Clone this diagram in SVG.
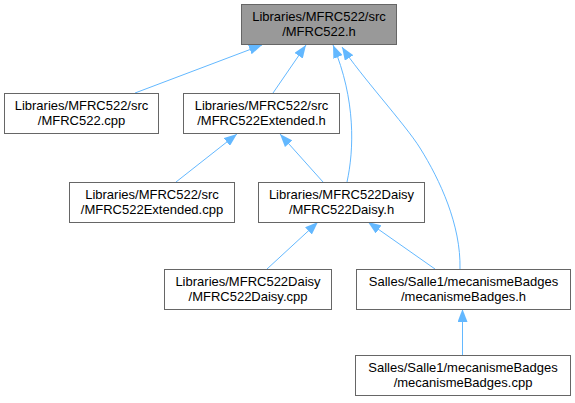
<svg xmlns="http://www.w3.org/2000/svg" width="575" height="403" viewBox="0 0 575 403">
<style>
  .box { fill: #ffffff; stroke: #666666; stroke-width: 1; }
  .root { fill: #999999; stroke: #666666; stroke-width: 1; }
  text { font-family: "Liberation Sans", Arial, sans-serif; font-size: 13px; fill: #000000; text-anchor: middle; }
  .edge { fill: none; stroke: #63b8ff; stroke-width: 1; marker-end: url(#arrow); }
</style>
<defs>
  <marker id="arrow" markerUnits="userSpaceOnUse" markerWidth="13" markerHeight="10" viewBox="0 0 13 10" refX="13" refY="5" orient="auto">
    <path d="M0,0 L13,5 L0,10 z" fill="#63b8ff"/>
  </marker>
</defs>
<rect width="575" height="403" fill="#ffffff"/>
<g id="connectors">
  <path class="edge" d="M135,93 L262,45"/>
  <path class="edge" d="M273,93 L306,45"/>
  <path class="edge" d="M347,182 C354,150 356,100 333,45"/>
  <path class="edge" d="M460,269 C461,225 440,180 420,148 C405,124 360,75 342,47"/>
  <path class="edge" d="M176,182 L237,134"/>
  <path class="edge" d="M323,182 L280,134"/>
  <path class="edge" d="M267,269 L318,222"/>
  <path class="edge" d="M435,269 L368,222"/>
  <path class="edge" d="M462.5,355 L462.5,309"/>
</g>
<g id="node-mfrc522-h">
  <rect class="root" x="241.5" y="4.5" width="155" height="40"/>
  <text x="319" y="21">Libraries/MFRC522/src</text>
  <text x="319" y="36">/MFRC522.h</text>
</g>
<g id="node-mfrc522-cpp">
  <rect class="box" x="4.5" y="93.5" width="154" height="40"/>
  <text x="81.5" y="110">Libraries/MFRC522/src</text>
  <text x="81.5" y="125">/MFRC522.cpp</text>
</g>
<g id="node-mfrc522extended-h">
  <rect class="box" x="183.5" y="93.5" width="156" height="40"/>
  <text x="261.5" y="110">Libraries/MFRC522/src</text>
  <text x="261.5" y="125">/MFRC522Extended.h</text>
</g>
<g id="node-mfrc522extended-cpp">
  <rect class="box" x="69.5" y="182.5" width="165" height="40"/>
  <text x="152" y="199">Libraries/MFRC522/src</text>
  <text x="152" y="214">/MFRC522Extended.cpp</text>
</g>
<g id="node-mfrc522daisy-h">
  <rect class="box" x="258.5" y="182.5" width="166" height="40"/>
  <text x="341.5" y="199">Libraries/MFRC522Daisy</text>
  <text x="341.5" y="214">/MFRC522Daisy.h</text>
</g>
<g id="node-mfrc522daisy-cpp">
  <rect class="box" x="164.5" y="269.5" width="167" height="40"/>
  <text x="248" y="286">Libraries/MFRC522Daisy</text>
  <text x="248" y="301">/MFRC522Daisy.cpp</text>
</g>
<g id="node-mecanismebadges-h">
  <rect class="box" x="356.5" y="269.5" width="214" height="40"/>
  <text x="463.5" y="286">Salles/Salle1/mecanismeBadges</text>
  <text x="463.5" y="301">/mecanismeBadges.h</text>
</g>
<g id="node-mecanismebadges-cpp">
  <rect class="box" x="355.5" y="355.5" width="215" height="40"/>
  <text x="463" y="372">Salles/Salle1/mecanismeBadges</text>
  <text x="463" y="387">/mecanismeBadges.cpp</text>
</g>
</svg>
